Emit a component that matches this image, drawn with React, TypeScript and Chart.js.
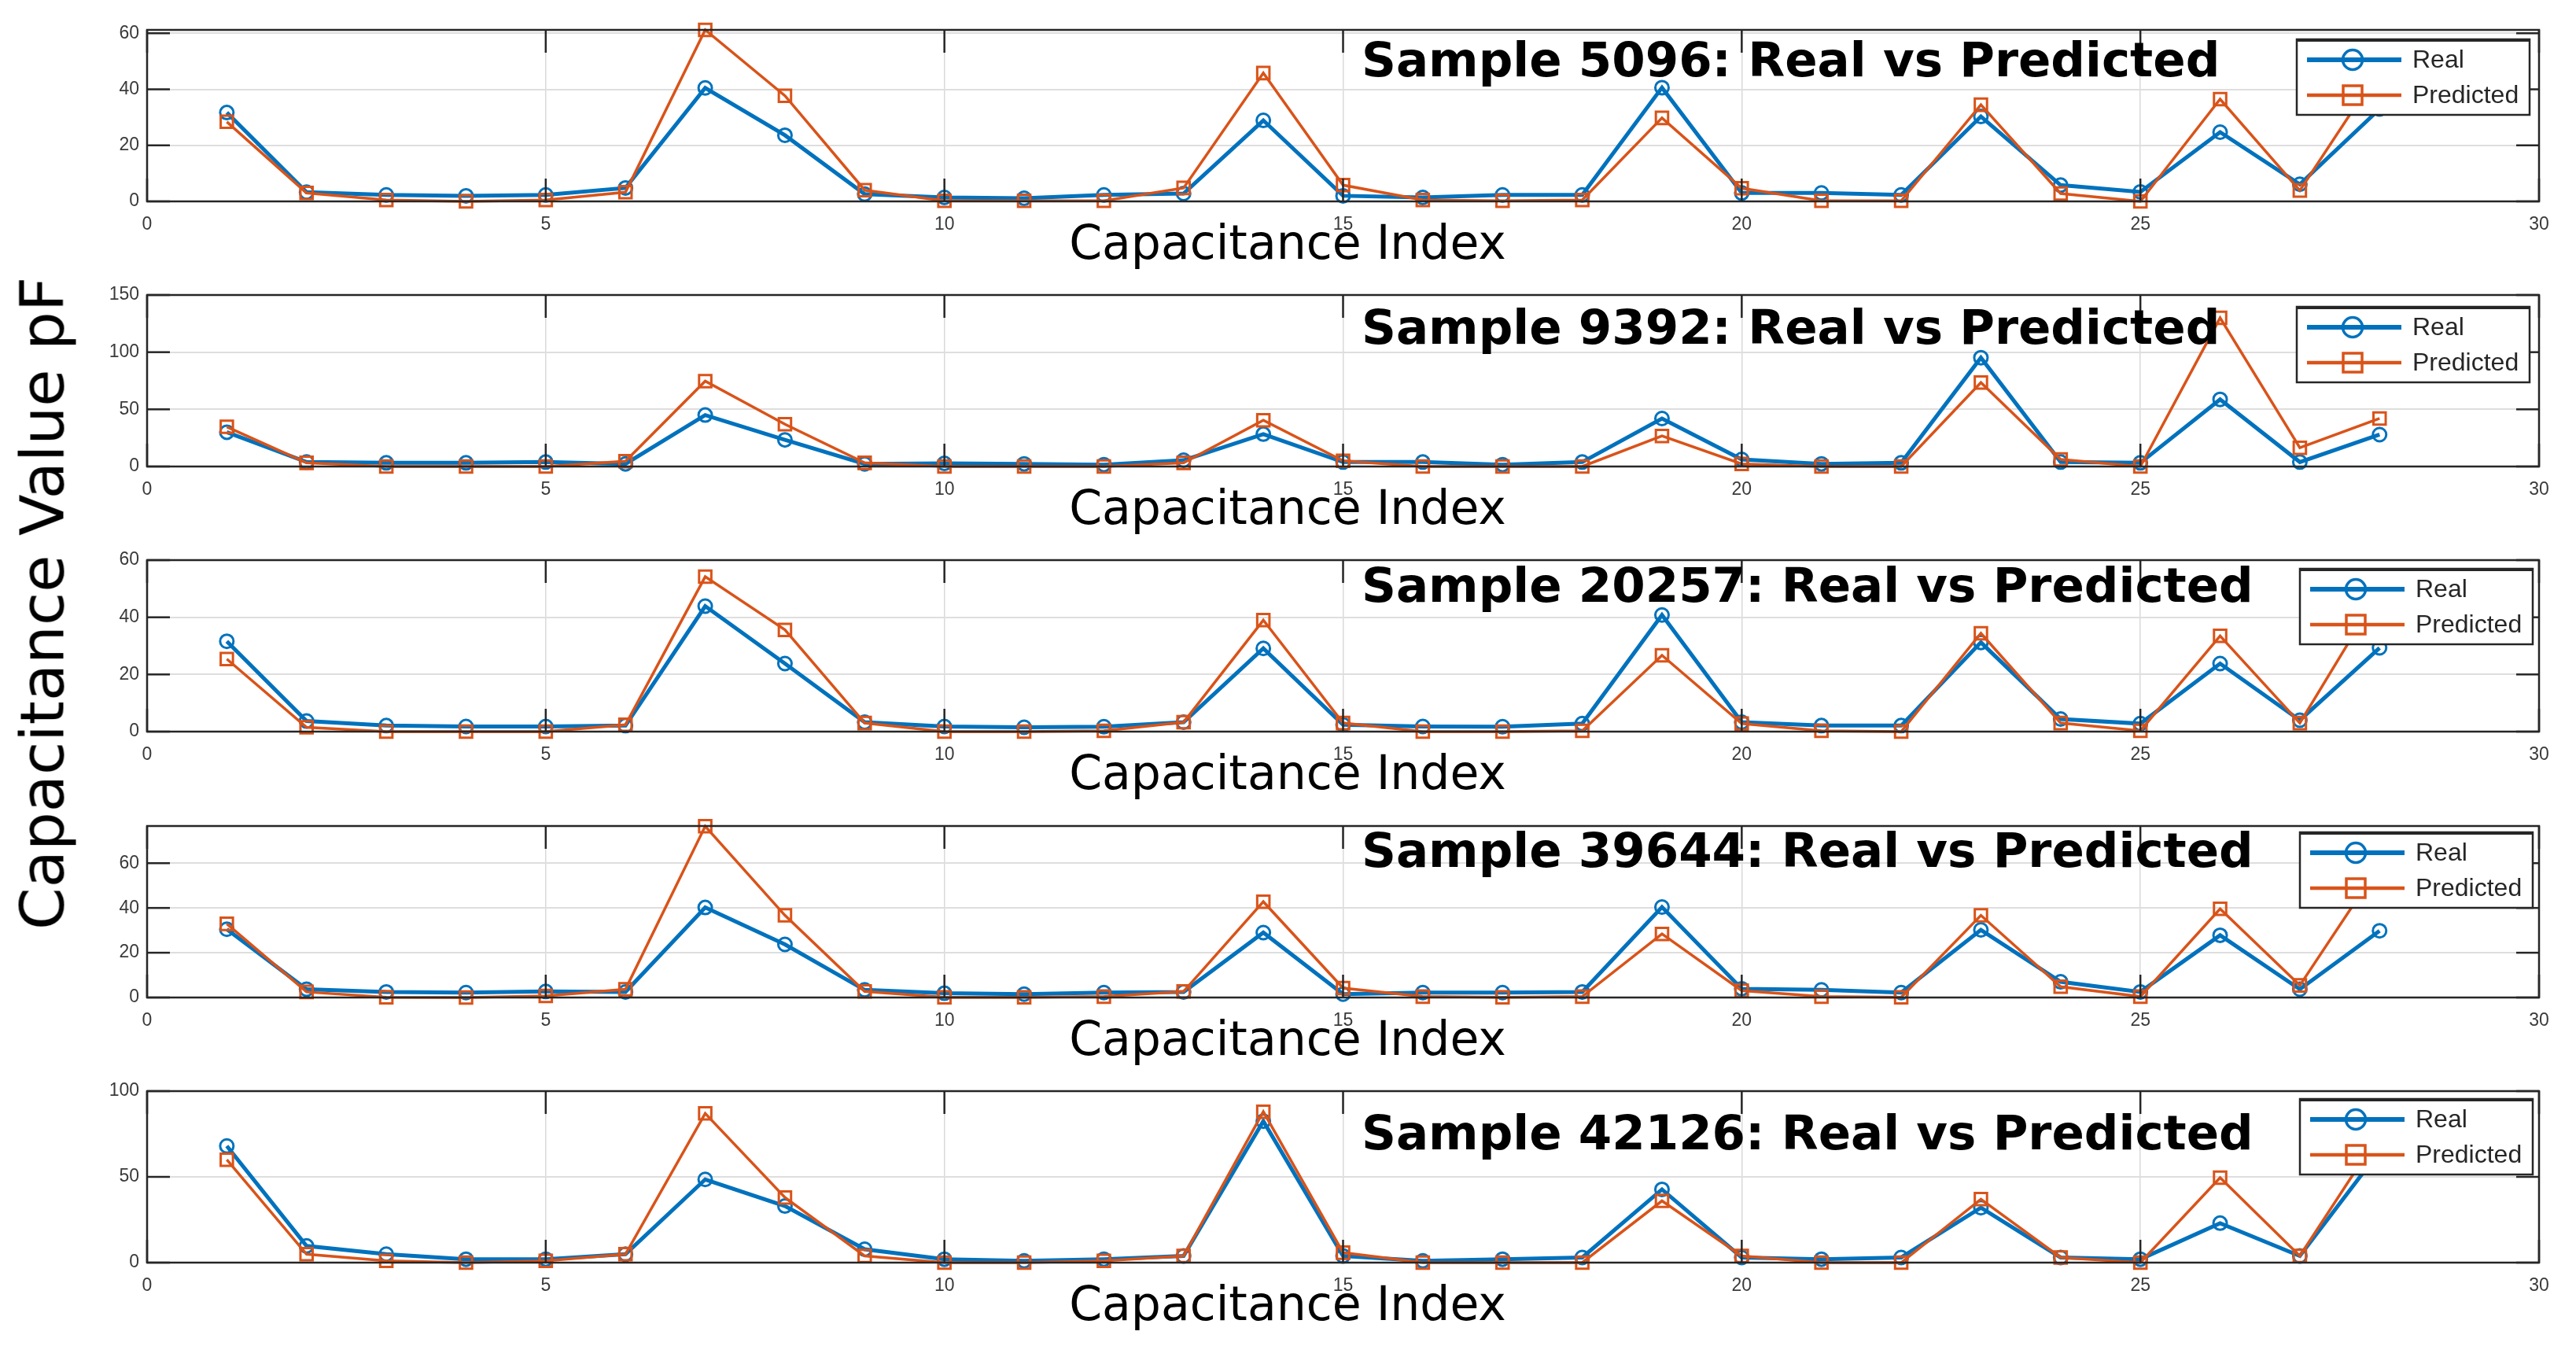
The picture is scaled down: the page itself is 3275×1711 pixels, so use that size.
import React, { useEffect, useRef } from "react";
import { Chart, registerables } from "chart.js";

Chart.register(...registerables);

// ---------------- DATA ----------------
const capacitanceIndex = [
  1, 2, 3, 4, 5, 6, 7, 8, 9, 10, 11, 12, 13, 14, 15, 16, 17, 18, 19, 20, 21, 22, 23, 24, 25, 26, 27, 28,
];
const xTickValues = [0, 5, 10, 15, 20, 25, 30];
const sampleIds = ["5096", "9392", "20257", "39644", "42126"];

const real5096 = [31.7, 3.3, 2.3, 2.0, 2.3, 4.8, 40.5, 23.6, 2.6, 1.4, 1.1, 2.3, 2.8, 28.9, 2.0, 1.4, 2.3, 2.3, 40.6, 3.0, 3.0, 2.3, 30.3, 5.8, 3.4, 24.7, 6.1, 33];
const pred5096 = [28.4, 3.0, 0.5, 0.0, 0.5, 3.3, 61.2, 37.7, 4.0, 0.2, 0.2, 0.2, 4.8, 45.8, 5.8, 0.5, 0.2, 0.5, 29.8, 4.7, 0.2, 0.2, 34.5, 2.8, 0.0, 36.5, 3.9, 47];

const real9392 = [30, 3.9, 3.2, 3.2, 3.9, 2.3, 45, 23.3, 2.3, 2.7, 2.3, 1.6, 5.5, 28.3, 3.9, 3.9, 1.6, 3.9, 42, 6.2, 2.3, 3.2, 95.2, 3.9, 3.2, 58.7, 3.9, 27.9];
const pred9392 = [34.7, 3.2, 0, 0, 0, 4.6, 74.7, 37, 3.2, 0, 0, 0, 3.2, 40.4, 5.0, 0, 0, 0, 26.7, 2.3, 0, 0, 73.5, 6.2, 0, 130, 16.4, 42];

const real20257 = [31.6, 3.7, 2.1, 1.8, 1.8, 2.1, 43.9, 23.8, 3.3, 1.8, 1.5, 1.7, 3.3, 29.1, 2.4, 1.8, 1.7, 2.8, 40.8, 3.3, 2.1, 2.1, 31.2, 4.4, 2.8, 23.8, 4.0, 29.3];
const pred20257 = [25.4, 1.5, 0, 0, 0, 2.4, 54.2, 35.6, 3.0, 0, 0, 0.3, 3.3, 39.0, 3.0, 0, 0, 0.3, 26.7, 2.8, 0.3, 0, 34.4, 3.0, 0.3, 33.5, 3.0, 49];

const real39644 = [30.5, 3.7, 2.5, 2.2, 2.7, 2.5, 40.2, 23.7, 3.4, 1.9, 1.5, 2.2, 2.5, 29.0, 1.5, 2.2, 2.2, 2.5, 40.4, 3.9, 3.4, 2.2, 30.2, 7.0, 2.5, 27.8, 3.7, 29.8];
const pred39644 = [32.9, 2.5, 0.1, 0, 0.7, 3.7, 76.5, 36.7, 2.7, 0.1, 0.1, 0.4, 2.7, 42.8, 4.2, 0.4, 0.1, 0.4, 28.4, 3.1, 0.4, 0.1, 36.7, 4.8, 0.4, 39.6, 5.4, 59];

const real42126 = [68, 9.7, 4.9, 2, 2, 4.9, 48.5, 33, 7.8, 2, 1, 2, 3.9, 82.5, 3.9, 1, 2, 3, 42.7, 3, 2, 3, 32, 3, 2, 23, 3.9, 65];
const pred42126 = [60, 4.9, 1, 0, 1, 4.9, 87, 38, 3.9, 0, 0, 1, 3.9, 88, 5.8, 0, 0, 0, 36, 3.9, 0, 0, 37, 3, 0, 49.5, 3.9, 75];

const realSeries = [real5096, real9392, real20257, real39644, real42126];
const predSeries = [pred5096, pred9392, pred20257, pred39644, pred42126];

const yMaxValues = [61.2, 150, 60, 76.6, 100];
const yTicks5096 = [0, 20, 40, 60];
const yTicks9392 = [0, 50, 100, 150];
const yTicks20257 = [0, 20, 40, 60];
const yTicks39644 = [0, 20, 40, 60];
const yTicks42126 = [0, 50, 100];
const yTickSets = [yTicks5096, yTicks9392, yTicks20257, yTicks39644, yTicks42126];

const xLabel = "Capacitance Index";
const yLabel = "Capacitance Value pF";
const seriesLabels = ["Real", "Predicted"];

// ---------------- LAYOUT / STYLE ----------------
const W = 3275;
const CANVAS_H = 360;
const PAD_TOP = 38;
const PLOT_H = 218;
const PLOT_LEFT = 187;
const PLOT_RIGHT = 3228;
const canvasTops = [0, 337, 674, 1012, 1349];
const titleDy = [59, 62, 53, 52, 74];
const legendDy = [12, 15, 11, 8, 10];
const legendLeft = [2920, 2920, 2924, 2924, 2924];
const TITLE_X = 1731;
const XLABEL_CX = 1637;
const BLUE = "#0072BD";
const ORANGE = "#D95319";
const AXIS = "#262626";

const overlayPlugin = {
  id: "matlabOverlay",
  afterDatasetsDraw(chart: any, _args: any, opts: any) {
    const { ctx, chartArea: a, scales } = chart;
    const xs = scales.x;
    const ys = scales.y;
    ctx.save();
    // inward tick marks + frame
    ctx.strokeStyle = AXIS;
    ctx.lineWidth = 2.5;
    const TL = 29;
    const seg = (x1: number, y1: number, x2: number, y2: number) => {
      ctx.beginPath();
      ctx.moveTo(x1, y1);
      ctx.lineTo(x2, y2);
      ctx.stroke();
    };
    for (const t of xTickValues) {
      const px = xs.getPixelForValue(t);
      seg(px, a.top, px, a.top + TL);
      seg(px, a.bottom, px, a.bottom - TL);
    }
    for (const t of opts.yTicks) {
      const py = ys.getPixelForValue(t);
      seg(a.left, py, a.left + TL, py);
      seg(a.right, py, a.right - TL, py);
    }
    ctx.strokeRect(a.left, a.top, a.right - a.left, a.bottom - a.top);

    // title
    ctx.fillStyle = "#000";
    ctx.textAlign = "left";
    ctx.textBaseline = "alphabetic";
    ctx.font = 'bold 61px "DejaVu Sans"';
    ctx.fillText(opts.title, TITLE_X, a.top + opts.titleDy);

    // x label
    ctx.textAlign = "center";
    ctx.font = '60px "DejaVu Sans"';
    ctx.fillText(xLabel, XLABEL_CX, a.bottom + 73);

    // legend
    const lx = opts.legendLeft;
    const ly = a.top + opts.legendDy;
    const lw = 296;
    const lh = 96;
    ctx.fillStyle = "#fff";
    ctx.fillRect(lx, ly, lw, lh);
    ctx.strokeStyle = AXIS;
    ctx.lineWidth = 2.5;
    ctx.strokeRect(lx, ly, lw, lh);
    ctx.lineWidth = 4;
    seg(lx, ly + 1, lx + lw, ly + 1);
    const ds = chart.data.datasets;
    ds.forEach((d: any, i: number) => {
      const cy = ly + 26 + i * 45;
      ctx.strokeStyle = d.borderColor;
      ctx.lineWidth = d.borderWidth + 1;
      seg(lx + 13, cy, lx + 133, cy);
      ctx.lineWidth = 3.5;
      ctx.beginPath();
      if (d.pointStyle === "circle") {
        ctx.arc(lx + 71, cy, 12.5, 0, Math.PI * 2);
      } else {
        ctx.rect(lx + 71 - 12, cy - 12, 24, 24);
      }
      ctx.stroke();
      ctx.fillStyle = AXIS;
      ctx.textAlign = "left";
      ctx.textBaseline = "middle";
      ctx.font = '32px "Liberation Sans"';
      ctx.fillText(d.label, lx + 147, cy + 1);
    });
    ctx.restore();
  },
};

function Panel({ idx }: { idx: number }) {
  const ref = useRef<HTMLCanvasElement | null>(null);
  useEffect(() => {
    if (!ref.current) return;
    const yTicks = yTickSets[idx];
    const chart = new Chart(ref.current, {
      type: "line",
      data: {
        datasets: [
          {
            label: seriesLabels[0],
            data: capacitanceIndex.map((x, i) => ({ x, y: realSeries[idx][i] })),
            borderColor: BLUE,
            backgroundColor: "rgba(0,0,0,0)",
            borderWidth: 5,
            pointStyle: "circle",
            pointRadius: 8.5,
            pointBorderWidth: 3,
            pointBackgroundColor: "rgba(0,0,0,0)",
            pointBorderColor: BLUE,
            tension: 0,
            clip: false,
            order: 1,
          } as any,
          {
            label: seriesLabels[1],
            data: capacitanceIndex.map((x, i) => ({ x, y: predSeries[idx][i] })),
            borderColor: ORANGE,
            backgroundColor: "rgba(0,0,0,0)",
            borderWidth: 3.5,
            pointStyle: "rect",
            pointRadius: 11,
            pointBorderWidth: 3,
            pointBackgroundColor: "rgba(0,0,0,0)",
            pointBorderColor: ORANGE,
            tension: 0,
            clip: false,
            order: 0,
          } as any,
        ],
      },
      options: {
        responsive: false,
        animation: false,
        events: [],
        layout: { padding: { top: PAD_TOP, right: W - PLOT_RIGHT, left: 0, bottom: 0 } },
        plugins: {
          legend: { display: false },
          tooltip: { enabled: false },
          title: { display: false },
          matlabOverlay: {
            title: `Sample ${sampleIds[idx]}: Real vs Predicted`,
            titleDy: titleDy[idx],
            legendDy: legendDy[idx],
            legendLeft: legendLeft[idx],
            yTicks,
          },
        } as any,
        scales: {
          x: {
            type: "linear",
            min: 0,
            max: 30,
            afterBuildTicks: (s: any) => {
              s.ticks = xTickValues.map((v) => ({ value: v }));
            },
            afterFit: (s: any) => {
              s.height = CANVAS_H - PAD_TOP - PLOT_H;
            },
            grid: { color: "#d9d9d9", lineWidth: 1.5, drawTicks: false },
            border: { display: false },
            ticks: {
              padding: 16,
              color: "#3a3a3a",
              maxRotation: 0,
              autoSkip: false,
              font: { family: "Liberation Sans", size: 23 },
            },
          },
          y: {
            type: "linear",
            min: 0,
            max: yMaxValues[idx],
            afterBuildTicks: (s: any) => {
              s.ticks = yTicks.map((v) => ({ value: v }));
            },
            afterFit: (s: any) => {
              s.width = PLOT_LEFT;
            },
            grid: { color: "#dedede", lineWidth: 2, drawTicks: false },
            border: { display: false },
            ticks: {
              padding: 10,
              color: "#3a3a3a",
              autoSkip: false,
              font: { family: "Liberation Sans", size: 23 },
            },
          },
        },
      },
      plugins: [overlayPlugin as any],
    });
    return () => chart.destroy();
  }, [idx]);
  return (
    <canvas
      ref={ref}
      width={W}
      height={CANVAS_H}
      style={{ position: "absolute", left: 0, top: canvasTops[idx], width: W, height: CANVAS_H, display: "block" }}
    />
  );
}

export default function App() {
  return (
    <div style={{ position: "absolute", left: 0, top: 0, width: W, height: 1711, background: "#fff", overflow: "hidden" }}>
      {sampleIds.map((_, i) => (
        <Panel key={i} idx={i} />
      ))}
      <div
        style={{
          position: "absolute",
          left: 54,
          top: 767,
          transform: "translate(-50%, -50%) rotate(-90deg)",
          whiteSpace: "nowrap",
          fontFamily: '"DejaVu Sans"',
          fontSize: 77,
          lineHeight: 1,
          color: "#000",
        }}
      >
        {yLabel}
      </div>
    </div>
  );
}
